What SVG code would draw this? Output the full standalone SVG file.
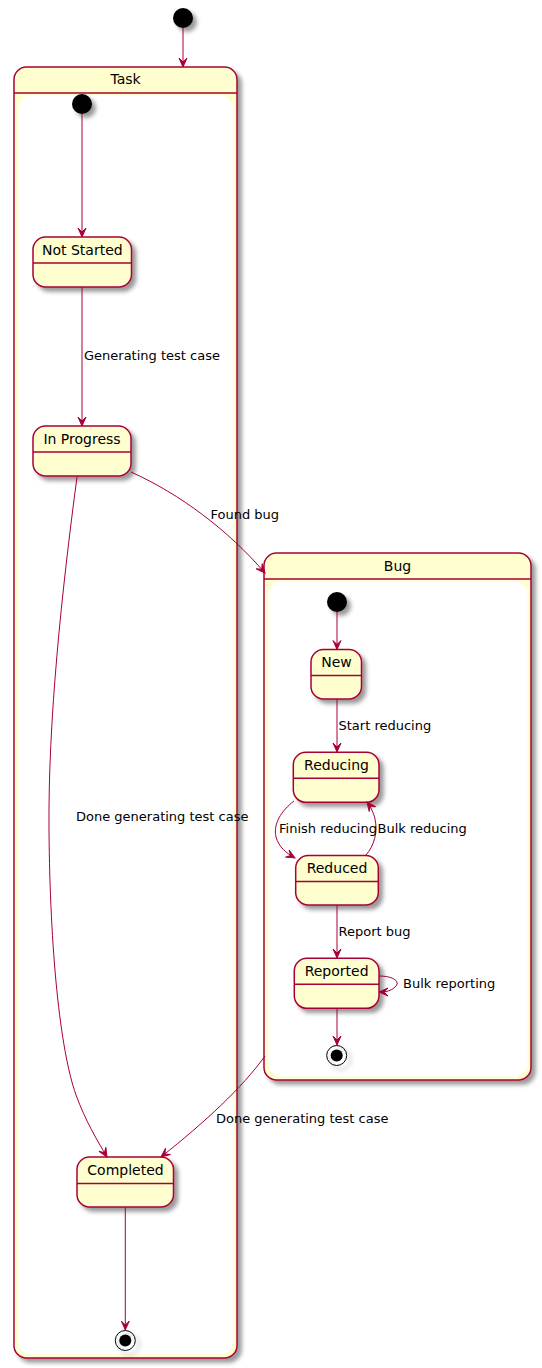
<svg xmlns="http://www.w3.org/2000/svg" width="542" height="1368" viewBox="0 0 542 1368">
<defs>
<filter id="sh" x="-1" y="-1" width="300%" height="300%">
<feGaussianBlur result="b1" stdDeviation="2"/>
<feColorMatrix in="b1" result="b2" type="matrix" values="0 0 0 0 0 0 0 0 0 0 0 0 0 0 0 0 0 0 .4 0"/>
<feOffset dx="4" dy="4" in="b2" result="b3"/>
<feBlend in="SourceGraphic" in2="b3" mode="normal"/>
</filter>
<marker id="ah" markerUnits="userSpaceOnUse" viewBox="-10 -5 11 10" refX="0" refY="0" markerWidth="11" markerHeight="10" orient="auto">
<path d="M0,0 L-9,-4 L-5,0 L-9,4 Z" fill="#A80036" stroke="#A80036" stroke-width="1"/>
</marker>
</defs>
<style>
.st{fill:#FEFECE;stroke:#A80036;stroke-width:1.5;filter:url(#sh)}
.sep{stroke:#A80036;stroke-width:1.5}
.inner{fill:#FFFFFF;stroke:none}
.nm{font-family:"DejaVu Sans","Liberation Sans",sans-serif;font-size:14px;fill:#000;text-anchor:middle}
.lb{font-family:"DejaVu Sans","Liberation Sans",sans-serif;font-size:13px;fill:#000}
.ln{fill:none;stroke:#A80036;stroke-width:1;marker-end:url(#ah)}
.start{fill:#000;stroke:none;filter:url(#sh)}
.endo{fill:none;stroke:#000;stroke-width:1;filter:url(#sh)}
.endi{fill:#000;stroke:none}
</style>
<rect width="542" height="1368" fill="#FFFFFF"/>

<g id="start-top"><circle class="start" cx="183" cy="18" r="10"/></g>

<g id="Task">
<rect class="st" x="14" y="67" width="223" height="1291" rx="12.5" ry="12.5"/>
<rect class="inner" x="18.5" y="95.5" width="214.5" height="1259" rx="12.5" ry="12.5"/>
<line class="sep" x1="14" y1="93" x2="237" y2="93"/>
<text class="nm" x="125.5" y="84">Task</text>
</g>

<g id="task-start"><circle class="start" cx="82" cy="104" r="10"/></g>

<g id="NotStarted">
<rect class="st" x="33" y="237" width="98.5" height="50" rx="12.5" ry="12.5"/>
<line class="sep" x1="33" y1="263" x2="131.5" y2="263"/>
<text class="nm" x="82.3" y="255">Not Started</text>
</g>

<g id="InProgress">
<rect class="st" x="33" y="426" width="98" height="50" rx="12.5" ry="12.5"/>
<line class="sep" x1="33" y1="452" x2="131" y2="452"/>
<text class="nm" x="82" y="443.5">In Progress</text>
</g>

<g id="Completed">
<rect class="st" x="77" y="1157" width="96.5" height="50" rx="12.5" ry="12.5"/>
<line class="sep" x1="77" y1="1183.5" x2="173.5" y2="1183.5"/>
<text class="nm" x="125.5" y="1175">Completed</text>
</g>

<g id="task-end"><circle class="endo" cx="125.3" cy="1340.5" r="10"/><circle class="endi" cx="125.3" cy="1340.5" r="6"/></g>

<g id="Bug">
<rect class="st" x="264" y="553" width="267" height="527" rx="12.5" ry="12.5"/>
<rect class="inner" x="268.5" y="581.5" width="259" height="495" rx="12.5" ry="12.5"/>
<line class="sep" x1="264" y1="579" x2="531" y2="579"/>
<text class="nm" x="397.5" y="571">Bug</text>
</g>

<g id="bug-start"><circle class="start" cx="337" cy="602" r="10"/></g>

<g id="New">
<rect class="st" x="311" y="649.5" width="50.5" height="49.5" rx="12.5" ry="12.5"/>
<line class="sep" x1="311" y1="675.5" x2="361.5" y2="675.5"/>
<text class="nm" x="336.5" y="667">New</text>
</g>

<g id="Reducing">
<rect class="st" x="293.3" y="752.3" width="85.7" height="50" rx="12.5" ry="12.5"/>
<line class="sep" x1="293.3" y1="778.3" x2="379" y2="778.3"/>
<text class="nm" x="336.5" y="770">Reducing</text>
</g>

<g id="Reduced">
<rect class="st" x="295.7" y="855.5" width="82.6" height="49.5" rx="12.5" ry="12.5"/>
<line class="sep" x1="295.7" y1="881.5" x2="378.3" y2="881.5"/>
<text class="nm" x="337" y="873">Reduced</text>
</g>

<g id="Reported">
<rect class="st" x="294.3" y="958.3" width="84.7" height="50" rx="12.5" ry="12.5"/>
<line class="sep" x1="294.3" y1="984.3" x2="379" y2="984.3"/>
<text class="nm" x="336.6" y="976">Reported</text>
</g>

<g id="bug-end"><circle class="endo" cx="336.7" cy="1055.5" r="10"/><circle class="endi" cx="336.7" cy="1055.5" r="6"/></g>

<g id="connectors">
<path class="ln" d="M183,28 L183,67"/>
<path class="ln" d="M82,114 L82,237"/>
<path class="ln" d="M82,287 L82,426"/>
<path class="ln" d="M131,472 C180,494 228,530 265,573"/>
<path class="ln" d="M77,477 C62,590 48,720 49,830 C50,950 60,1050 76,1095 C86,1122 97,1140 107,1157"/>
<path class="ln" d="M265,1056 C242,1088 205,1122 161,1157"/>
<path class="ln" d="M125.3,1207 L125.3,1330"/>
<path class="ln" d="M337,612 L337,649.5"/>
<path class="ln" d="M337,699 L337,752"/>
<path class="ln" d="M294,801 C281,811 273,824 276,837 C279,847 286,853 295,858"/>
<path class="ln" d="M366,855 C374,846 378,832 375,819 C373,811 370,806 367,802"/>
<path class="ln" d="M337,905 L337,958"/>
<path class="ln" d="M379,976 C394,976 401,982 395,987 C391,991 386,992 379,992"/>
<path class="ln" d="M337,1008 L337,1045"/>
<text class="lb" x="84" y="360">Generating test case</text>
<text class="lb" x="210.5" y="518.5">Found bug</text>
<text class="lb" x="76" y="821">Done generating test case</text>
<text class="lb" x="216" y="1123">Done generating test case</text>
<text class="lb" x="338.5" y="730">Start reducing</text>
<text class="lb" x="279" y="833">Finish reducing</text>
<text class="lb" x="377.5" y="833">Bulk reducing</text>
<text class="lb" x="338.5" y="936">Report bug</text>
<text class="lb" x="403" y="988">Bulk reporting</text>
</g>
</svg>
